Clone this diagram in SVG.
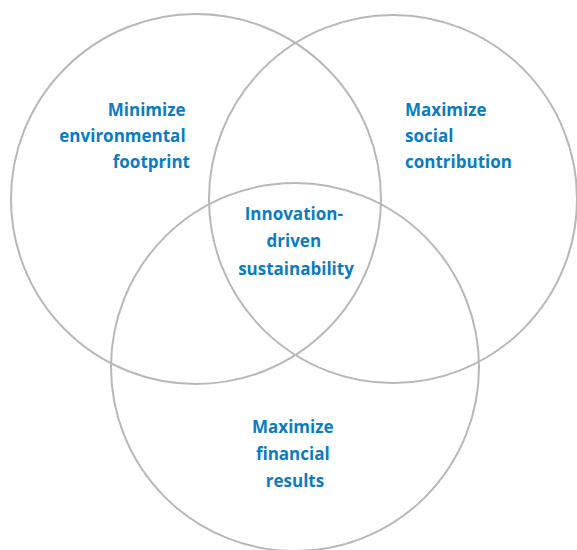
<svg xmlns="http://www.w3.org/2000/svg" width="577" height="550" viewBox="0 0 577 550">
  <style>
    .ring { fill: none; stroke: #b8b8b8; stroke-width: 2; }
    .lbl { font-family: "Open Sans", "Liberation Sans", sans-serif; font-weight: 700; font-size: 17px; fill: #0a7cc2; }
  </style>
  <rect width="577" height="550" fill="#ffffff"/>
  <g id="circle-environment">
    <circle class="ring" cx="196" cy="199" r="185"/>
    <text class="lbl" text-anchor="end">
      <tspan x="190" y="116">Minimize</tspan>
      <tspan x="190" y="142">environmental</tspan>
      <tspan x="190" y="168">footprint</tspan>
    </text>
  </g>
  <g id="circle-social">
    <circle class="ring" cx="393" cy="199" r="184"/>
    <text class="lbl" text-anchor="start">
      <tspan x="405" y="116">Maximize</tspan>
      <tspan x="405" y="142">social</tspan>
      <tspan x="405" y="168">contribution</tspan>
    </text>
  </g>
  <g id="circle-financial">
    <circle class="ring" cx="295" cy="367" r="184"/>
    <text class="lbl" text-anchor="middle">
      <tspan x="295" y="433">Maximize</tspan>
      <tspan x="295" y="460">financial</tspan>
      <tspan x="295" y="487">results</tspan>
    </text>
  </g>
  <g id="center">
    <text class="lbl" text-anchor="middle">
      <tspan x="296" y="220">Innovation-</tspan>
      <tspan x="296" y="247">driven</tspan>
      <tspan x="296" y="275">sustainability</tspan>
    </text>
  </g>
</svg>
